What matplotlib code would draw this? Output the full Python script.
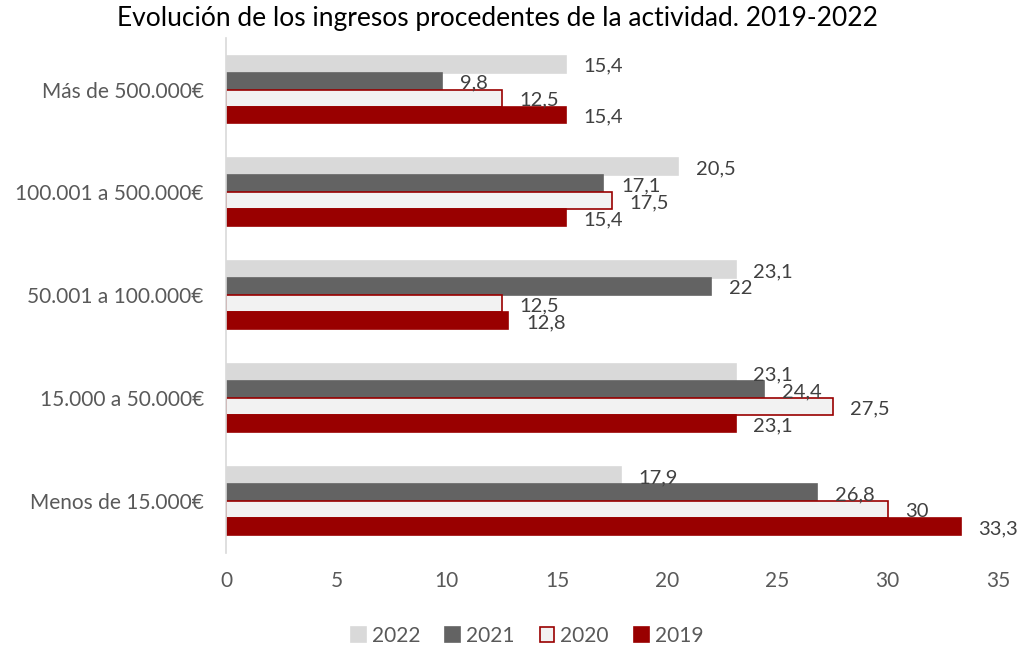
import matplotlib.pyplot as plt
import numpy as np

# Datos (de arriba hacia abajo)
categorias = ['Más de 500.000€', '100.001 a 500.000€', '50.001 a 100.000€',
              '15.000 a 50.000€', 'Menos de 15.000€']
anios = ['2022', '2021', '2020', '2019']
v2022 = [15.4, 20.5, 23.1, 23.1, 17.9]
v2021 = [9.8, 17.1, 22, 24.4, 26.8]
v2020 = [12.5, 17.5, 12.5, 27.5, 30]
v2019 = [15.4, 15.4, 12.8, 23.1, 33.3]
series = [v2022, v2021, v2020, v2019]

colores = ['#d9d9d9', '#636363', '#f2f2f2', '#990000']
bordes = ['#d9d9d9', '#636363', '#990000', '#990000']

plt.rcParams['font.family'] = ['Lato', 'DejaVu Sans']

fig = plt.figure(figsize=(10.23, 6.45), dpi=100)
ax = fig.add_axes([0.221, 0.143, 0.7546, 0.798])

y = np.arange(len(categorias))
alto = 0.165

for i, (vals, c, b, a) in enumerate(zip(series, colores, bordes, anios)):
    pos = y + (i - 1.5) * alto
    ax.barh(pos, vals, height=alto, color=c, edgecolor=b, linewidth=1.2, label=a)
    for p, v in zip(pos, vals):
        txt = f'{v:g}'.replace('.', ',')
        ax.text(v + 0.8, p + 0.02, txt, va='center', ha='left',
                fontsize=14.5, color='#404040')

ax.set_ylim(len(categorias) - 0.5, -0.5)
ax.set_xlim(0, 35)
ax.set_xticks(range(0, 36, 5))
ax.set_yticks(y)
ax.set_yticklabels(categorias)
ax.tick_params(axis='both', length=0, labelsize=15, labelcolor='#595959')
ax.tick_params(axis='y', pad=16)
ax.tick_params(axis='x', pad=13)

for s in ['top', 'right', 'bottom']:
    ax.spines[s].set_visible(False)
ax.spines['left'].set_color('#d9d9d9')
ax.spines['left'].set_linewidth(1.2)

fig.suptitle('Evolución de los ingresos procedentes de la actividad. 2019-2022',
             x=0.486, y=0.99, fontsize=19, color='black')

ax.legend(loc='upper center', bbox_to_anchor=(0.39, -0.105), ncol=4, frameon=False,
          fontsize=15, labelcolor='#595959', handlelength=0.7, handleheight=0.7,
          handletextpad=0.3, columnspacing=1.2)

plt.savefig('out.png', dpi=100)
